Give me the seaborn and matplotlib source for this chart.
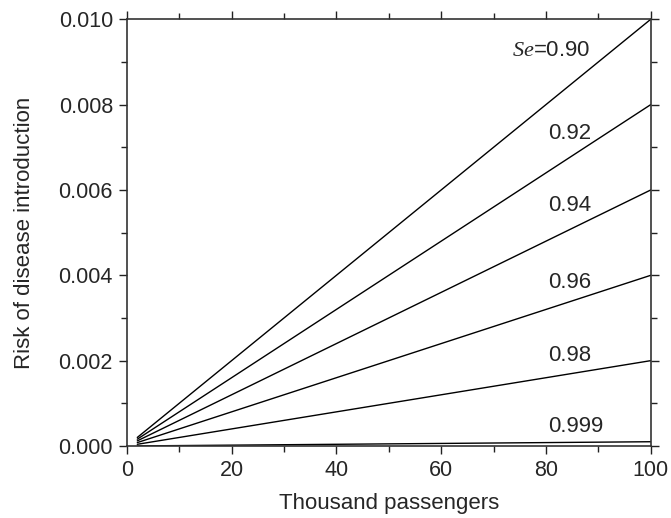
import pandas as pd
import seaborn as sns
import matplotlib.pyplot as plt
from matplotlib.ticker import MultipleLocator

# values
passengers = [2, 100]
se_levels = ['0.90', '0.92', '0.94', '0.96', '0.98', '0.999']
risk_start = [0.0002, 0.00016, 0.00012, 0.00008, 0.00004, 0.000002]
risk_end = [0.0100, 0.0080, 0.0060, 0.0040, 0.0020, 0.0001]
label_y = [0.00927, 0.00733, 0.00564, 0.00384, 0.00213, 0.00045]

rows = []
for se, y0, y1 in zip(se_levels, risk_start, risk_end):
    rows.append({'passengers': passengers[0], 'risk': y0, 'Se': se})
    rows.append({'passengers': passengers[1], 'risk': y1, 'Se': se})
df = pd.DataFrame(rows)

sns.set_style('ticks')
plt.rcParams['font.family'] = ['Liberation Sans', 'DejaVu Sans']
plt.rcParams['mathtext.fontset'] = 'custom'
plt.rcParams['mathtext.it'] = 'Liberation Serif:italic'
plt.rcParams['mathtext.rm'] = 'Liberation Sans'

fig = plt.figure(figsize=(6.71, 5.18), dpi=100)
ax = fig.add_axes([0.189, 0.139, 0.781, 0.824])

sns.lineplot(data=df, x='passengers', y='risk', hue='Se',
             palette=['black'] * len(se_levels), linewidth=1.0,
             legend=False, ax=ax)

for se, y in zip(se_levels, label_y):
    if se == '0.90':
        ax.text(88.4, y, '$Se$=' + se, ha='right', va='center', fontsize=16)
    else:
        ax.text(80.3, y, se, ha='left', va='center', fontsize=16)

ax.set_xlim(0, 100)
ax.set_ylim(0, 0.010)
ax.xaxis.set_major_locator(MultipleLocator(20))
ax.xaxis.set_minor_locator(MultipleLocator(10))
ax.yaxis.set_major_locator(MultipleLocator(0.002))
ax.yaxis.set_minor_locator(MultipleLocator(0.001))
ax.yaxis.set_major_formatter(plt.FormatStrFormatter('%.3f'))

ax.tick_params(which='both', direction='out', top=True, right=True,
               labeltop=False, labelright=False, color='#222222', width=1.0)
ax.tick_params(which='major', length=6, labelsize=15.5, pad=4)
ax.tick_params(which='minor', length=4)
for s in ax.spines.values():
    s.set_linewidth(1.2)
    s.set_color('#333333')

ax.set_xlabel('Thousand passengers', fontsize=16, labelpad=9)
ax.set_ylabel('Risk of disease introduction', fontsize=16, labelpad=17)

plt.savefig('out.png', dpi=100)
